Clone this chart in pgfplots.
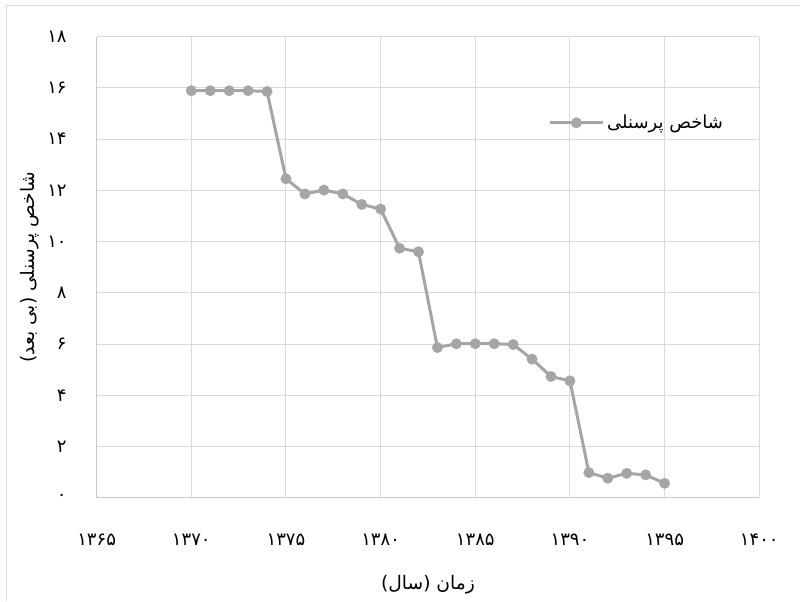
\documentclass[border=0pt]{standalone}
\usepackage{pgfplots}
\pgfplotsset{compat=1.18}
\usepackage{fontspec}
\TeXXeTstate=1
\newfontfamily\fa[Script=Arabic]{DejaVu Sans}
\definecolor{gridc}{HTML}{D9D9D9}
\definecolor{axc}{HTML}{C8C8C8}
\definecolor{ser}{HTML}{A5A5A5}
\pgfplotstableread{
x y
1370 15.89
1371 15.89
1372 15.89
1373 15.89
1374 15.86
1375 12.45
1376 11.86
1377 12.01
1378 11.86
1379 11.45
1380 11.27
1381 9.74
1382 9.60
1383 5.86
1384 6.01
1385 6.01
1386 6.01
1387 5.98
1388 5.41
1389 4.73
1390 4.56
1391 0.98
1392 0.76
1393 0.95
1394 0.89
1395 0.56
}\datatable
\begin{document}
\begin{tikzpicture}
\useasboundingbox (0,0) rectangle (600pt,450.75pt);
\draw[gridc, line width=0.75pt] (4.9pt,0) -- (4.9pt,446.25pt) -- (600pt,446.25pt);
\begin{axis}[
  at={(72.5pt,77.5pt)}, anchor=south west,
  scale only axis, width=496.95pt, height=345.75pt,
  xmin=1365, xmax=1400, ymin=0, ymax=18,
  xtick={1365,1370,1375,1380,1385,1390,1395,1400},
  ytick={0,2,4,6,8,10,12,14,16,18},
  xticklabels={۱۳۶۵,۱۳۷۰,۱۳۷۵,۱۳۸۰,۱۳۸۵,۱۳۹۰,۱۳۹۵,۱۴۰۰},
  yticklabels={۰,۲,۴,۶,۸,۱۰,۱۲,۱۴,۱۶,۱۸},
  ticklabel style={font=\fa\fontsize{13.5}{15}\selectfont, text=black},
  xticklabel style={yshift=-24pt},
  yticklabel style={xshift=-19pt},
  major tick length=0pt,
  axis x line*=bottom, axis y line*=left,
  axis line style={axc, line width=0.75pt, -},
  grid=major,
  major grid style={gridc, line width=0.75pt},
  xlabel={\beginR زمان (سال)\endR},
  ylabel={\beginR شاخص پرسنلی (بی بعد)\endR},
  label style={font=\fa\fontsize{14}{16}\selectfont},
  xlabel style={at={(axis description cs:0.5,0)}, anchor=center, yshift=-65pt},
  ylabel style={at={(axis description cs:0,0.5)}, anchor=center, yshift=50pt},
  legend style={at={(rel axis cs:0.675,0.813)}, anchor=west, draw=none, fill=none,
    font=\fa\fontsize{13.5}{15}\selectfont},
  legend image code/.code={\draw[#1, mark repeat=2, mark phase=2] plot coordinates {(0pt,0pt) (20pt,0pt) (40pt,0pt)};},
]
\addplot[ser, line width=2.25pt, mark=*, mark size=4pt, mark options={fill=ser, draw=ser, line width=0.1pt}] table[x=x,y=y] {\datatable};
\addlegendentry{\beginR شاخص پرسنلی\endR}
\end{axis}
\end{tikzpicture}
\end{document}
